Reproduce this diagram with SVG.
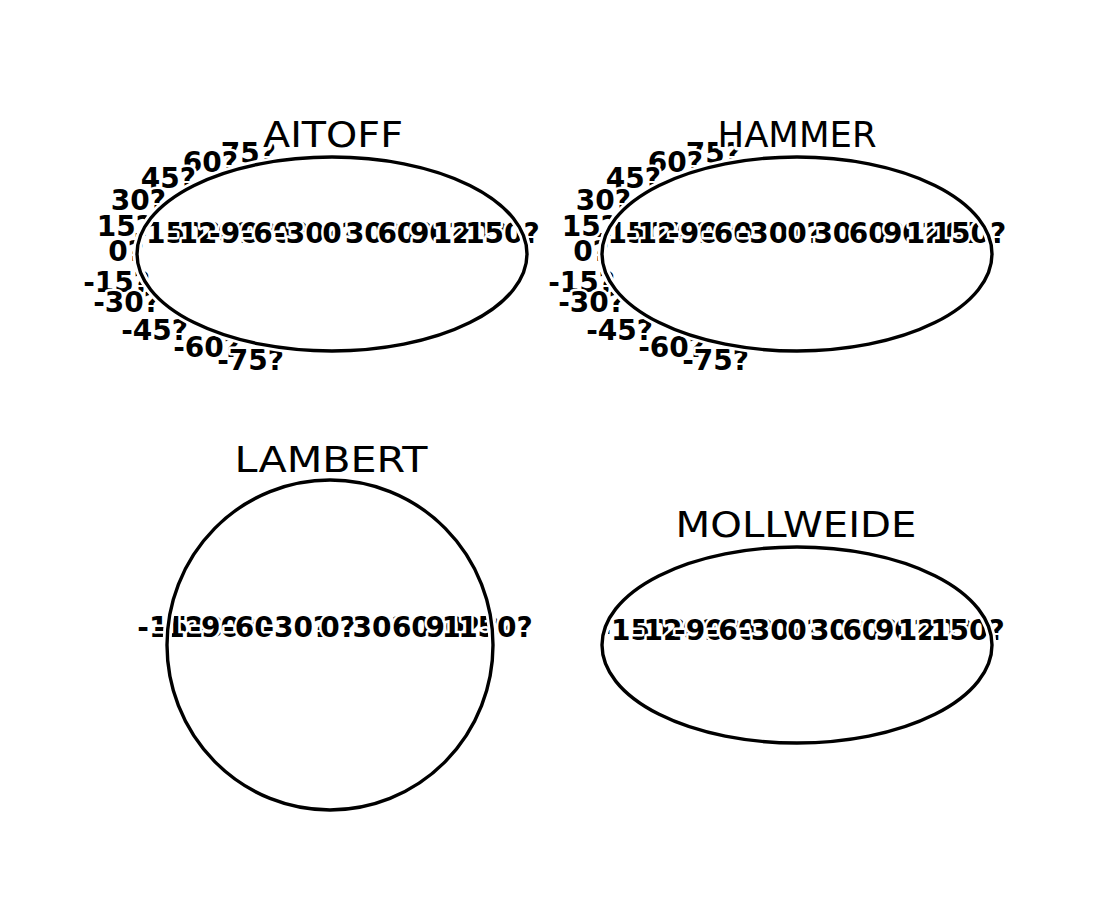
<svg xmlns="http://www.w3.org/2000/svg" width="1100" height="900" viewBox="0 0 1100 900">
<style>
.bg{fill:#ffffff}
.lbl{font-family:"DejaVu Sans","Liberation Sans",sans-serif;font-size:28px;font-weight:bold;fill:#000;stroke:#fff;stroke-width:5px;stroke-linejoin:round;paint-order:stroke}
.eq{text-anchor:middle}
.lat{text-anchor:end}
.ttl{font-family:"DejaVu Sans","Liberation Sans",sans-serif;font-size:36px;fill:#000;stroke:#fff;stroke-width:7px;stroke-linejoin:round;paint-order:stroke;text-anchor:middle}
.halo{fill:none;stroke:#fff;stroke-width:9px}
.edge{fill:none;stroke:#000;stroke-width:3.4px;stroke-linejoin:round}
</style>
<rect class="bg" x="0" y="0" width="1100" height="900"/>

<g id="aitoff">
  <g class="lbl eq">
    <text x="177.5" y="243">-150?</text>
    <text x="210" y="243">-120?</text>
    <text x="242.5" y="243">-90?</text>
    <text x="275" y="243">-60?</text>
    <text x="307.5" y="243">-30?</text>
    <text x="340" y="243">0?</text>
    <text x="372.5" y="243">30?</text>
    <text x="405" y="243">60?</text>
    <text x="437.5" y="243">90?</text>
    <text x="470" y="243">120?</text>
    <text x="502.5" y="243">150?</text>
  </g>
  <g class="lbl lat">
    <text x="276" y="163">75?</text>
    <text x="238" y="172">60?</text>
    <text x="196" y="188">45?</text>
    <text x="166" y="210">30?</text>
    <text x="152" y="236">15?</text>
    <text x="144" y="261">0?</text>
    <text x="150" y="292">-15?</text>
    <text x="160" y="312">-30?</text>
    <text x="188" y="340">-45?</text>
    <text x="240" y="357">-60?</text>
    <text x="284" y="370">-75?</text>
  </g>
  <ellipse class="halo" cx="332" cy="254" rx="195" ry="97"/>
  <ellipse class="edge" cx="332" cy="254" rx="195" ry="97"/>
  <text class="ttl" x="333" y="147" textLength="140" lengthAdjust="spacingAndGlyphs">AITOFF</text>
</g>

<g id="hammer">
  <g class="lbl eq">
    <text x="639" y="243">-150?</text>
    <text x="669" y="243">-120?</text>
    <text x="701.5" y="243">-90?</text>
    <text x="735.6" y="243">-60?</text>
    <text x="771" y="243">-30?</text>
    <text x="805" y="243">0?</text>
    <text x="841" y="243">30?</text>
    <text x="876.4" y="243">60?</text>
    <text x="910.5" y="243">90?</text>
    <text x="943" y="243">120?</text>
    <text x="969" y="243">150?</text>
  </g>
  <g class="lbl lat">
    <text x="741" y="163">75?</text>
    <text x="703" y="172">60?</text>
    <text x="661" y="188">45?</text>
    <text x="631" y="210">30?</text>
    <text x="617" y="236">15?</text>
    <text x="609" y="261">0?</text>
    <text x="615" y="292">-15?</text>
    <text x="625" y="312">-30?</text>
    <text x="653" y="340">-45?</text>
    <text x="705" y="357">-60?</text>
    <text x="749" y="370">-75?</text>
  </g>
  <ellipse class="halo" cx="797" cy="254" rx="195" ry="97"/>
  <ellipse class="edge" cx="797" cy="254" rx="195" ry="97"/>
  <text class="ttl" x="797" y="147" textLength="159" lengthAdjust="spacingAndGlyphs">HAMMER</text>
</g>

<g id="lambert">
  <g class="lbl eq">
    <text x="180.5" y="637">-150?</text>
    <text x="196.8" y="637">-120?</text>
    <text x="222.8" y="637">-90?</text>
    <text x="256.5" y="637">-60?</text>
    <text x="295.8" y="637">-30?</text>
    <text x="338" y="637">0?</text>
    <text x="380.2" y="637">30?</text>
    <text x="419.5" y="637">60?</text>
    <text x="453.2" y="637">90?</text>
    <text x="479.2" y="637">120?</text>
    <text x="495.5" y="637">150?</text>
  </g>
  <ellipse class="halo" cx="330" cy="645" rx="163" ry="165"/>
  <ellipse class="edge" cx="330" cy="645" rx="163" ry="165"/>
  <text class="ttl" x="331" y="472" textLength="193" lengthAdjust="spacingAndGlyphs">LAMBERT</text>
</g>

<g id="mollweide">
  <g class="lbl eq">
    <text x="642.5" y="640">-150?</text>
    <text x="675" y="640">-120?</text>
    <text x="707.5" y="640">-90?</text>
    <text x="740" y="640">-60?</text>
    <text x="772.5" y="640">-30?</text>
    <text x="805" y="640">0?</text>
    <text x="837.5" y="640">30?</text>
    <text x="870" y="640">60?</text>
    <text x="902.5" y="640">90?</text>
    <text x="935" y="640">120?</text>
    <text x="967.5" y="640">150?</text>
  </g>
  <ellipse class="halo" cx="797" cy="645" rx="195" ry="98"/>
  <ellipse class="edge" cx="797" cy="645" rx="195" ry="98"/>
  <text class="ttl" x="796" y="537" textLength="241" lengthAdjust="spacingAndGlyphs">MOLLWEIDE</text>
</g>

<g id="connectors"></g>
</svg>
